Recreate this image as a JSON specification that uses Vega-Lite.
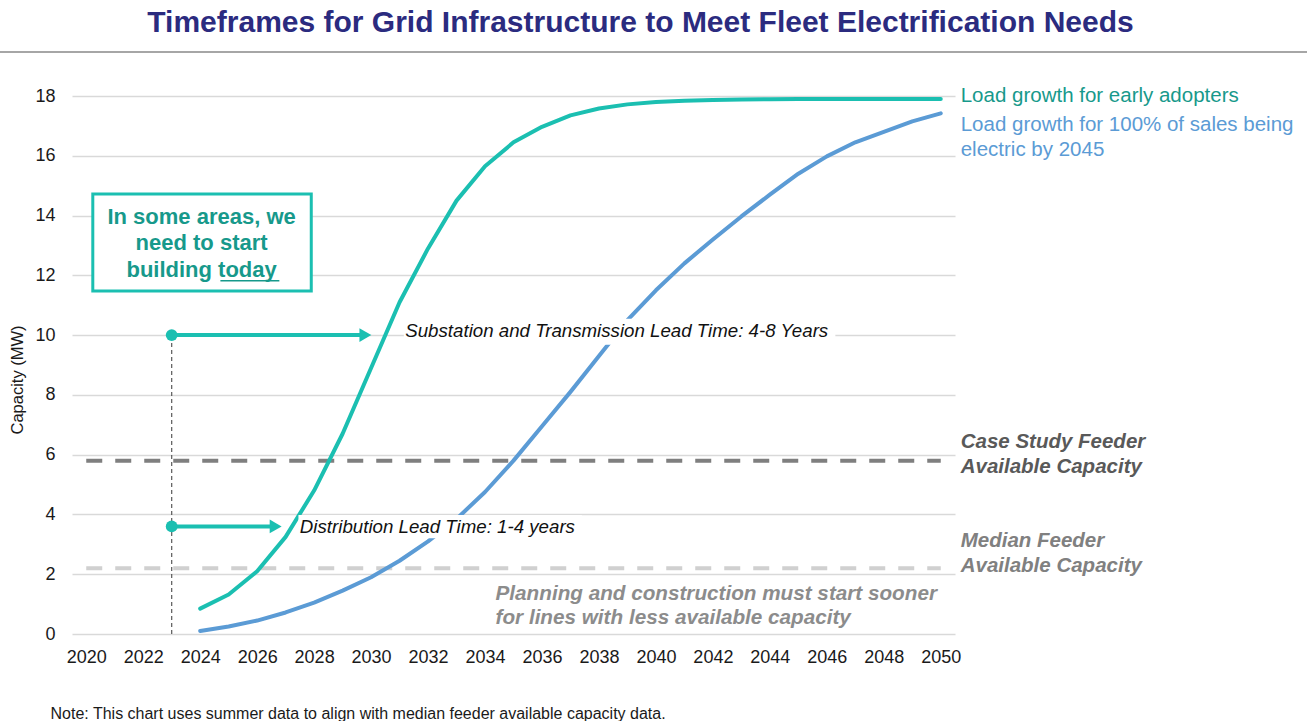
{
  "$schema": "https://vega.github.io/schema/vega-lite/v6.json",
  "width": 883,
  "height": 538,
  "autosize": "none",
  "padding": {"left": 72, "top": 96, "right": 352, "bottom": 87},
  "background": "white",
  "config": {
    "font": "Liberation Sans",
    "view": {"stroke": null}
  },
  "title": {
    "text": "Timeframes for Grid Infrastructure to Meet Fleet Electrification Needs",
    "fontSize": 30, "font": "Liberation Sans", "fontWeight": "bold", "color": "#2B2B7F",
    "anchor": "middle", "dx": 127, "offset": 13
  },
  "layer": [
    {
      "data": {"values": [{"start": 2020, "end": 2050, "mw": 5.8}]},
      "mark": {"type": "rule", "color": "#7F7F7F", "strokeWidth": 4, "strokeDash": [16, 13], "strokeCap": "butt"},
      "encoding": {
        "x": {"field": "start", "type": "quantitative",
          "scale": {"domain": [2019.5, 2050.5], "nice": false, "zero": false},
          "axis": {"values": [2020, 2022, 2024, 2026, 2028, 2030, 2032, 2034, 2036, 2038, 2040, 2042, 2044, 2046, 2048, 2050],
            "format": "d", "grid": false, "domain": false, "ticks": false, "labelFontSize": 18, "labelColor": "#1a1a1a",
            "labelPadding": 14, "labelFlush": false, "labelOverlap": false,
            "title": "Note: This chart uses summer data to align with median feeder available capacity data.",
            "titleFontSize": 16, "titleFontWeight": "normal", "titleColor": "#1a1a1a", "titleAnchor": "start",
            "titleAlign": "left", "titleX": -22, "titleY": 84, "titleBaseline": "alphabetic"}},
        "x2": {"field": "end"},
        "y": {"field": "mw", "type": "quantitative",
          "scale": {"domain": [0, 18], "nice": false},
          "axis": {"values": [0, 2, 4, 6, 8, 10, 12, 14, 16, 18], "grid": true, "gridColor": "#D9D9D9", "gridWidth": 1.5,
            "domain": false, "ticks": false, "labelFontSize": 18, "labelColor": "#1a1a1a", "labelPadding": 17,
            "title": null}}
      }
    },
    {
      "data": {"values": [{"start": 2020, "end": 2050, "mw": 2.2}]},
      "mark": {"type": "rule", "color": "#D0D0D0", "strokeWidth": 4, "strokeDash": [16, 13], "strokeCap": "butt"},
      "encoding": {
        "x": {"field": "start", "type": "quantitative"},
        "x2": {"field": "end"},
        "y": {"field": "mw", "type": "quantitative"}
      }
    },
    {
      "data": {"values": [{"year": 2023, "lo": 0, "hi": 10}]},
      "mark": {"type": "rule", "color": "#595959", "strokeWidth": 1.2, "strokeDash": [4, 3]},
      "encoding": {
        "x": {"field": "year", "type": "quantitative"},
        "y": {"field": "lo", "type": "quantitative"},
        "y2": {"field": "hi"}
      }
    },
    {
      "data": {"values": [
        {"year": 2024, "mw": 0.1, "series": "sales"}, {"year": 2025, "mw": 0.25, "series": "sales"},
        {"year": 2026, "mw": 0.45, "series": "sales"}, {"year": 2027, "mw": 0.72, "series": "sales"},
        {"year": 2028, "mw": 1.05, "series": "sales"}, {"year": 2029, "mw": 1.45, "series": "sales"},
        {"year": 2030, "mw": 1.9, "series": "sales"}, {"year": 2031, "mw": 2.45, "series": "sales"},
        {"year": 2032, "mw": 3.1, "series": "sales"}, {"year": 2033, "mw": 3.85, "series": "sales"},
        {"year": 2034, "mw": 4.75, "series": "sales"}, {"year": 2035, "mw": 5.8, "series": "sales"},
        {"year": 2036, "mw": 6.95, "series": "sales"}, {"year": 2037, "mw": 8.1, "series": "sales"},
        {"year": 2038, "mw": 9.3, "series": "sales"}, {"year": 2039, "mw": 10.5, "series": "sales"},
        {"year": 2040, "mw": 11.5, "series": "sales"}, {"year": 2041, "mw": 12.4, "series": "sales"},
        {"year": 2042, "mw": 13.2, "series": "sales"}, {"year": 2043, "mw": 13.97, "series": "sales"},
        {"year": 2044, "mw": 14.7, "series": "sales"}, {"year": 2045, "mw": 15.4, "series": "sales"},
        {"year": 2046, "mw": 15.98, "series": "sales"}, {"year": 2047, "mw": 16.45, "series": "sales"},
        {"year": 2048, "mw": 16.8, "series": "sales"}, {"year": 2049, "mw": 17.15, "series": "sales"},
        {"year": 2050, "mw": 17.42, "series": "sales"},
        {"year": 2024, "mw": 0.85, "series": "early"}, {"year": 2025, "mw": 1.32, "series": "early"},
        {"year": 2026, "mw": 2.1, "series": "early"}, {"year": 2027, "mw": 3.25, "series": "early"},
        {"year": 2028, "mw": 4.8, "series": "early"}, {"year": 2029, "mw": 6.7, "series": "early"},
        {"year": 2030, "mw": 8.9, "series": "early"}, {"year": 2031, "mw": 11.1, "series": "early"},
        {"year": 2032, "mw": 12.9, "series": "early"}, {"year": 2033, "mw": 14.5, "series": "early"},
        {"year": 2034, "mw": 15.65, "series": "early"}, {"year": 2035, "mw": 16.45, "series": "early"},
        {"year": 2036, "mw": 16.97, "series": "early"}, {"year": 2037, "mw": 17.35, "series": "early"},
        {"year": 2038, "mw": 17.58, "series": "early"}, {"year": 2039, "mw": 17.72, "series": "early"},
        {"year": 2040, "mw": 17.8, "series": "early"}, {"year": 2041, "mw": 17.84, "series": "early"},
        {"year": 2042, "mw": 17.87, "series": "early"}, {"year": 2043, "mw": 17.88, "series": "early"},
        {"year": 2044, "mw": 17.89, "series": "early"}, {"year": 2045, "mw": 17.9, "series": "early"},
        {"year": 2046, "mw": 17.9, "series": "early"}, {"year": 2047, "mw": 17.9, "series": "early"},
        {"year": 2048, "mw": 17.9, "series": "early"}, {"year": 2049, "mw": 17.9, "series": "early"},
        {"year": 2050, "mw": 17.9, "series": "early"}
      ]},
      "mark": {"type": "line", "strokeWidth": 4, "strokeCap": "round", "strokeJoin": "round"},
      "encoding": {
        "x": {"field": "year", "type": "quantitative"},
        "y": {"field": "mw", "type": "quantitative"},
        "color": {"field": "series", "type": "nominal", "scale": {"domain": ["sales", "early"], "range": ["#5B9BD5", "#1BBFB1"]}, "legend": null}
      }
    },
    {
      "data": {"values": [
        {"x1": 2031.15, "x2": 2046.3, "y1": 9.68, "y2": 10.55},
        {"x1": 2027.45, "x2": 2037.4, "y1": 3.2, "y2": 3.98}
      ]},
      "mark": {"type": "rect", "fill": "white"},
      "encoding": {
        "x": {"field": "x1", "type": "quantitative"}, "x2": {"field": "x2"},
        "y": {"field": "y1", "type": "quantitative"}, "y2": {"field": "y2"}
      }
    },
    {
      "data": {"values": [
        {"year": 2031.2, "mw": 10.15, "label": "Substation and Transmission Lead Time: 4-8 Years"},
        {"year": 2027.5, "mw": 3.58, "label": "Distribution Lead Time: 1-4 years"}
      ]},
      "mark": {"type": "text", "align": "left", "baseline": "middle", "fontStyle": "italic", "fontSize": 18.7, "color": "#111111"},
      "encoding": {
        "x": {"field": "year", "type": "quantitative"},
        "y": {"field": "mw", "type": "quantitative"},
        "text": {"field": "label"}
      }
    },
    {
      "data": {"values": [
        {"from": 2023, "to": 2029.8, "mw": 10},
        {"from": 2023, "to": 2026.65, "mw": 3.6}
      ]},
      "mark": {"type": "rule", "color": "#1BBFB1", "strokeWidth": 4},
      "encoding": {
        "x": {"field": "from", "type": "quantitative"}, "x2": {"field": "to"},
        "y": {"field": "mw", "type": "quantitative"}
      }
    },
    {
      "data": {"values": [
        {"head": 2029.8, "mw": 10},
        {"head": 2026.65, "mw": 3.6}
      ]},
      "mark": {"type": "point", "shape": "triangle-right", "filled": true, "size": 190, "color": "#1BBFB1", "opacity": 1},
      "encoding": {
        "x": {"field": "head", "type": "quantitative"},
        "y": {"field": "mw", "type": "quantitative"}
      }
    },
    {
      "data": {"values": [
        {"year": 2023, "mw": 10},
        {"year": 2023, "mw": 3.6}
      ]},
      "mark": {"type": "circle", "size": 140, "color": "#1BBFB1", "opacity": 1},
      "encoding": {
        "x": {"field": "year", "type": "quantitative"},
        "y": {"field": "mw", "type": "quantitative"}
      }
    },
    {
      "data": {"values": [{"x1": 2020.23, "x2": 2027.9, "y1": 11.48, "y2": 14.72}]},
      "mark": {"type": "rect", "fill": "white", "stroke": "#1BBFB1", "strokeWidth": 3},
      "encoding": {
        "x": {"field": "x1", "type": "quantitative"}, "x2": {"field": "x2"},
        "y": {"field": "y1", "type": "quantitative"}, "y2": {"field": "y2"}
      }
    },
    {
      "data": {"values": [
        {"year": 2024.05, "mw": 13.96, "label": "In some areas, we"},
        {"year": 2024.05, "mw": 13.07, "label": "need to start"},
        {"year": 2024.05, "mw": 12.18, "label": "building today"}
      ]},
      "mark": {"type": "text", "align": "center", "baseline": "middle", "fontWeight": "bold", "fontSize": 22, "color": "#17998B"},
      "encoding": {
        "x": {"field": "year", "type": "quantitative"},
        "y": {"field": "mw", "type": "quantitative"},
        "text": {"field": "label"}
      }
    },
    {
      "data": {"values": [{"from": 2024.71, "to": 2026.78, "mw": 11.82}]},
      "mark": {"type": "rule", "color": "#17998B", "strokeWidth": 1.5},
      "encoding": {
        "x": {"field": "from", "type": "quantitative"}, "x2": {"field": "to"},
        "y": {"field": "mw", "type": "quantitative"}
      }
    },
    {
      "data": {"values": [{"year": 2017.6, "mw": 8.5, "label": "Capacity (MW)"}]},
      "mark": {"type": "text", "align": "center", "baseline": "middle", "angle": 270, "fontSize": 16.5, "color": "#1a1a1a"},
      "encoding": {
        "x": {"field": "year", "type": "quantitative"},
        "y": {"field": "mw", "type": "quantitative"},
        "text": {"field": "label"}
      }
    },
    {
      "data": {"values": [{"year": 2050.7, "mw": 18.0, "label": "Load growth for early adopters"}]},
      "mark": {"type": "text", "align": "left", "baseline": "middle", "fontSize": 20.5, "color": "#17998B"},
      "encoding": {
        "x": {"field": "year", "type": "quantitative"},
        "y": {"field": "mw", "type": "quantitative"},
        "text": {"field": "label"}
      }
    },
    {
      "data": {"values": [
        {"year": 2050.7, "mw": 17.03, "label": "Load growth for 100% of sales being"},
        {"year": 2050.7, "mw": 16.19, "label": "electric by 2045"}
      ]},
      "mark": {"type": "text", "align": "left", "baseline": "middle", "fontSize": 20.5, "color": "#5B9BD5"},
      "encoding": {
        "x": {"field": "year", "type": "quantitative"},
        "y": {"field": "mw", "type": "quantitative"},
        "text": {"field": "label"}
      }
    },
    {
      "data": {"values": [
        {"year": 2050.7, "mw": 6.42, "label": "Case Study Feeder"},
        {"year": 2050.7, "mw": 5.59, "label": "Available Capacity"}
      ]},
      "mark": {"type": "text", "align": "left", "baseline": "middle", "fontSize": 20.5, "fontWeight": "bold", "fontStyle": "italic", "color": "#595959"},
      "encoding": {
        "x": {"field": "year", "type": "quantitative"},
        "y": {"field": "mw", "type": "quantitative"},
        "text": {"field": "label"}
      }
    },
    {
      "data": {"values": [
        {"year": 2050.7, "mw": 3.11, "label": "Median Feeder"},
        {"year": 2050.7, "mw": 2.27, "label": "Available Capacity"}
      ]},
      "mark": {"type": "text", "align": "left", "baseline": "middle", "fontSize": 20.5, "fontWeight": "bold", "fontStyle": "italic", "color": "#808080"},
      "encoding": {
        "x": {"field": "year", "type": "quantitative"},
        "y": {"field": "mw", "type": "quantitative"},
        "text": {"field": "label"}
      }
    },
    {
      "data": {"values": [
        {"year": 2034.37, "mw": 1.34, "label": "Planning and construction must start sooner"},
        {"year": 2034.37, "mw": 0.54, "label": "for lines with less available capacity"}
      ]},
      "mark": {"type": "text", "align": "left", "baseline": "middle", "fontSize": 20.7, "fontWeight": "bold", "fontStyle": "italic", "color": "#8C8C8C"},
      "encoding": {
        "x": {"field": "year", "type": "quantitative"},
        "y": {"field": "mw", "type": "quantitative"},
        "text": {"field": "label"}
      }
    },
    {
      "data": {"values": [{"from": 2016.9, "to": 2063.0, "mw": 19.47}]},
      "mark": {"type": "rule", "color": "#A6A6A6", "strokeWidth": 2},
      "encoding": {
        "x": {"field": "from", "type": "quantitative"}, "x2": {"field": "to"},
        "y": {"field": "mw", "type": "quantitative"}
      }
    }
  ]
}
